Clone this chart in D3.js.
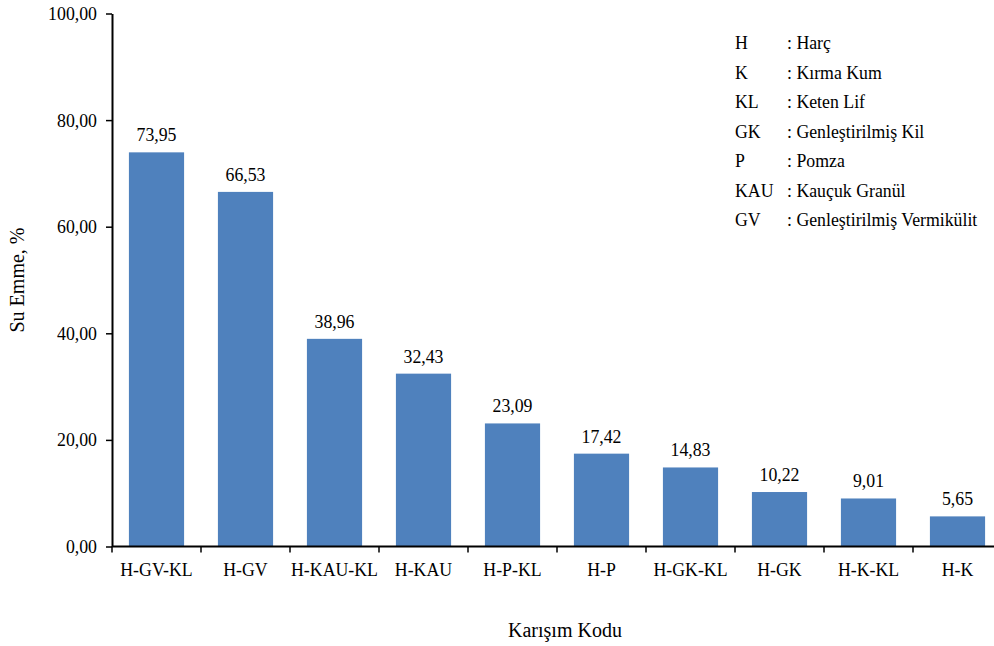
<!DOCTYPE html>
<html><head><meta charset="utf-8">
<script src="https://cdn.jsdelivr.net/npm/d3@7"></script>
<style>body{margin:0;background:#fff}svg{display:block}</style>
</head><body>
<svg id="c" width="994" height="646" style="font-family:'Liberation Serif','Times New Roman',serif"></svg>
<script>
const categories = ["H-GV-KL","H-GV","H-KAU-KL","H-KAU","H-P-KL","H-P","H-GK-KL","H-GK","H-K-KL","H-K"];
const values = [73.95,66.53,38.96,32.43,23.09,17.42,14.83,10.22,9.01,5.65];
const yTicks = [0,20,40,60,80,100];
const legendCodes = ["H","K","KL","GK","P","KAU","GV"];
const legendNames = ["Harç","Kırma Kum","Keten Lif","Genleştirilmiş Kil","Pomza","Kauçuk Granül","Genleştirilmiş Vermikülit"];

(function(){
const FONT = "'Liberation Serif','Times New Roman',serif";
const FS = "17.8px";
const svg = d3.select("#c");
const mL = 112, mR = 1002, mT = 13.5, mB = 546.5;
const fmt = v => v.toFixed(2).replace(".", ",");

const x = d3.scaleBand().domain(categories).range([mL, mR]).paddingInner(0.38).paddingOuter(0.19);
const y = d3.scaleLinear().domain([0,100]).range([mB, mT]);
const step = x.step();

// bars
svg.append("g").selectAll("rect").data(values).join("rect")
  .attr("x", (d,i) => x(categories[i]))
  .attr("y", d => y(d))
  .attr("width", x.bandwidth())
  .attr("height", d => y(0) - y(d))
  .attr("fill", "#4F81BD");

// value labels
svg.append("g").selectAll("text").data(values).join("text")
  .attr("x", (d,i) => x(categories[i]) + x.bandwidth()/2)
  .attr("y", d => y(d) - 11)
  .attr("text-anchor", "middle")
  .style("font-family", FONT).style("font-size", FS).attr("fill", "#000")
  .text(d => fmt(d));

// y axis
const yAxis = d3.axisLeft(y).tickValues(yTicks).tickFormat(fmt).tickSize(6).tickSizeOuter(0).tickPadding(9);
const gy = svg.append("g").attr("transform", `translate(${mL},0)`).call(yAxis);
gy.attr("font-family", null).attr("font-size", null);
gy.select(".domain").attr("stroke", "#000").attr("stroke-width", 2);
gy.selectAll(".tick line").attr("stroke", "#000").attr("stroke-width", 1.5);
gy.selectAll(".tick text").style("font-family", FONT).style("font-size", FS).attr("fill", "#000").attr("dy", "0.34em");

// x axis
const gx = svg.append("g").attr("transform", `translate(0,${mB})`);
gx.append("line").attr("x1", mL).attr("x2", mR).attr("stroke", "#000").attr("stroke-width", 2);
const bounds = categories.map(c => x(c) - step*0.19);
bounds.push(mR);
gx.selectAll("line.t").data(bounds).join("line").attr("class","t")
  .attr("x1", d => d).attr("x2", d => d).attr("y1", 0).attr("y2", 6)
  .attr("stroke", "#000").attr("stroke-width", 1.5);
gx.selectAll("text").data(categories).join("text")
  .attr("x", c => x(c) + x.bandwidth()/2)
  .attr("y", 29)
  .attr("text-anchor", "middle")
  .style("font-family", FONT).style("font-size", FS)
  .text(c => c);

// axis titles
svg.append("text").attr("transform", "translate(24,280) rotate(-90)")
  .attr("text-anchor", "middle").style("font-family", FONT).style("font-size", "20px").text("Su Emme, %");
svg.append("text").attr("x", 565).attr("y", 637)
  .attr("text-anchor", "middle").style("font-family", FONT).style("font-size", "20px").text("Karışım Kodu");

// legend
const lg = svg.append("g");
legendCodes.forEach((c, i) => {
  const yy = 49 + i * 29.5;
  lg.append("text").attr("x", 735).attr("y", yy).style("font-family", FONT).style("font-size", FS).text(c);
  lg.append("text").attr("x", 787).attr("y", yy).style("font-family", FONT).style("font-size", FS).text(": " + legendNames[i]);
});
})();
</script>
</body></html>
